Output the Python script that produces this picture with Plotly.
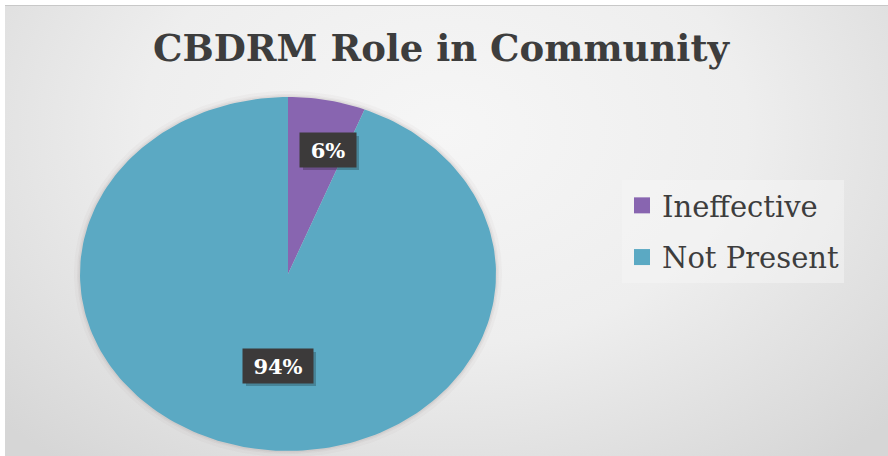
import numpy as np
import plotly.graph_objects as go

# Chart data
labels = ["Ineffective", "Not Present"]
values = [6, 94]
colors = ["#8865B0", "#5BA9C3"]
title_text = "CBDRM Role in Community"

W, H = 888, 456
# Ellipse geometry of the pie (in pixel-like axis units)
CX, CY, RX, RY = 288, 274, 208, 177
# Data-label anchor points (axis units), one per slice
LABEL_XY = [(328, 150), (278, 366)]
LABEL_W = [48, 62]
LABEL_H = 26
LABEL_PAD = 4

SERIF = "DejaVu Serif"
TEXT_COL = "#3d3d3d"


def ellipse_path(a0, a1, rx, ry, with_center=True):
    n = max(int(240 * (a1 - a0) / (2 * np.pi)) + 4, 8)
    t = np.linspace(a0, a1, n)
    xs = CX + rx * np.sin(t)
    ys = CY - ry * np.cos(t)
    if with_center:
        xs = np.concatenate([[CX], xs, [CX]])
        ys = np.concatenate([[CY], ys, [CY]])
    return xs, ys


fig = go.Figure()

# Background panel with a soft radial gradient (own subplot so it is clipped)
fig.add_trace(go.Scatter(
    x=[-160, 1050, 1050, -160, -160],
    y=[-300, -300, 560, 560, -300],
    mode="lines", line=dict(width=0), fill="toself",
    fillgradient=dict(type="radial",
                      colorscale=[[0, "#f6f6f6"], [0.5, "#eeeeee"], [1, "#d6d6d6"]]),
    hoverinfo="skip", showlegend=False, xaxis="x", yaxis="y",
))

# Soft shadow around the pie
for pad, alpha in [(6, 0.04), (3, 0.06), (1.5, 0.08)]:
    xs, ys = ellipse_path(0, 2 * np.pi, RX + pad, RY + pad, with_center=False)
    fig.add_trace(go.Scatter(
        x=xs, y=ys, mode="lines", line=dict(width=0), fill="toself",
        fillcolor=f"rgba(120,100,100,{alpha})", hoverinfo="skip",
        showlegend=False, xaxis="x2", yaxis="y2",
    ))

# Pie slices, clockwise from 12 o'clock
total = float(sum(values))
start = 0.0
for lab, val, col in zip(labels, values, colors):
    end = start + 2 * np.pi * val / total
    xs, ys = ellipse_path(start, end, RX, RY)
    fig.add_trace(go.Scatter(
        x=xs, y=ys, mode="lines", line=dict(width=0), fill="toself",
        fillcolor=col, name=lab, hoverinfo="name", showlegend=False,
        xaxis="x2", yaxis="y2",
    ))
    start = end

# Legend entries
for i, (lab, col) in enumerate(zip(labels, colors)):
    fig.add_trace(go.Scatter(
        x=[None], y=[None], mode="markers", name=lab, legendgroup=f"g{i}",
        marker=dict(symbol="square", size=16, color=col, line=dict(width=0)),
        xaxis="x2", yaxis="y2",
    ))

shapes = [dict(type="line", xref="x2", yref="y2", x0=5, x1=W, y0=5.5, y1=5.5,
               line=dict(color="#c8c8c8", width=1))]
annotations = []
for (lx, ly), val, w in zip(LABEL_XY, values, LABEL_W):
    # drop shadow behind each label box
    hw = w / 2 + LABEL_PAD
    hh = LABEL_H / 2 + LABEL_PAD
    shapes.append(dict(type="rect", xref="x2", yref="y2", layer="above",
                       x0=lx - hw + 3, x1=lx + hw + 3, y0=ly - hh + 3, y1=ly + hh + 3,
                       line=dict(width=0), fillcolor="rgba(0,0,0,0.22)"))
    annotations.append(dict(
        x=lx, y=ly, xref="x2", yref="y2", text=f"<b>{val}%</b>", showarrow=False,
        width=w, height=LABEL_H, borderpad=LABEL_PAD, bgcolor="#3c3a3a",
        font=dict(family=SERIF, size=21, color="#ffffff"),
    ))

fig.update_layout(
    width=W, height=H,
    margin=dict(l=0, r=0, t=0, b=0),
    paper_bgcolor="#ffffff", plot_bgcolor="rgba(0,0,0,0)",
    title=dict(text=f"<b>{title_text}</b>", x=441 / W, xanchor="center",
               y=1 - 48 / H, yanchor="middle",
               font=dict(family=SERIF, size=37, color=TEXT_COL)),
    xaxis=dict(domain=[5 / W, 1], range=[5, W], visible=False, fixedrange=True),
    yaxis=dict(domain=[0, 1 - 5 / H], range=[H, 5], visible=False, fixedrange=True),
    xaxis2=dict(domain=[0, 1], range=[0, W], visible=False, fixedrange=True, anchor="y2"),
    yaxis2=dict(domain=[0, 1], range=[H, 0], visible=False, fixedrange=True, anchor="x2"),
    legend=dict(x=622 / W, y=1 - 180 / H, xanchor="left", yanchor="top",
                bgcolor="rgba(246,246,246,0.5)", borderwidth=0,
                font=dict(family=SERIF, size=29, color=TEXT_COL),
                traceorder="grouped", tracegroupgap=11, itemclick=False),
    shapes=shapes,
    annotations=annotations,
    showlegend=True,
)

fig.write_html("out.html")
